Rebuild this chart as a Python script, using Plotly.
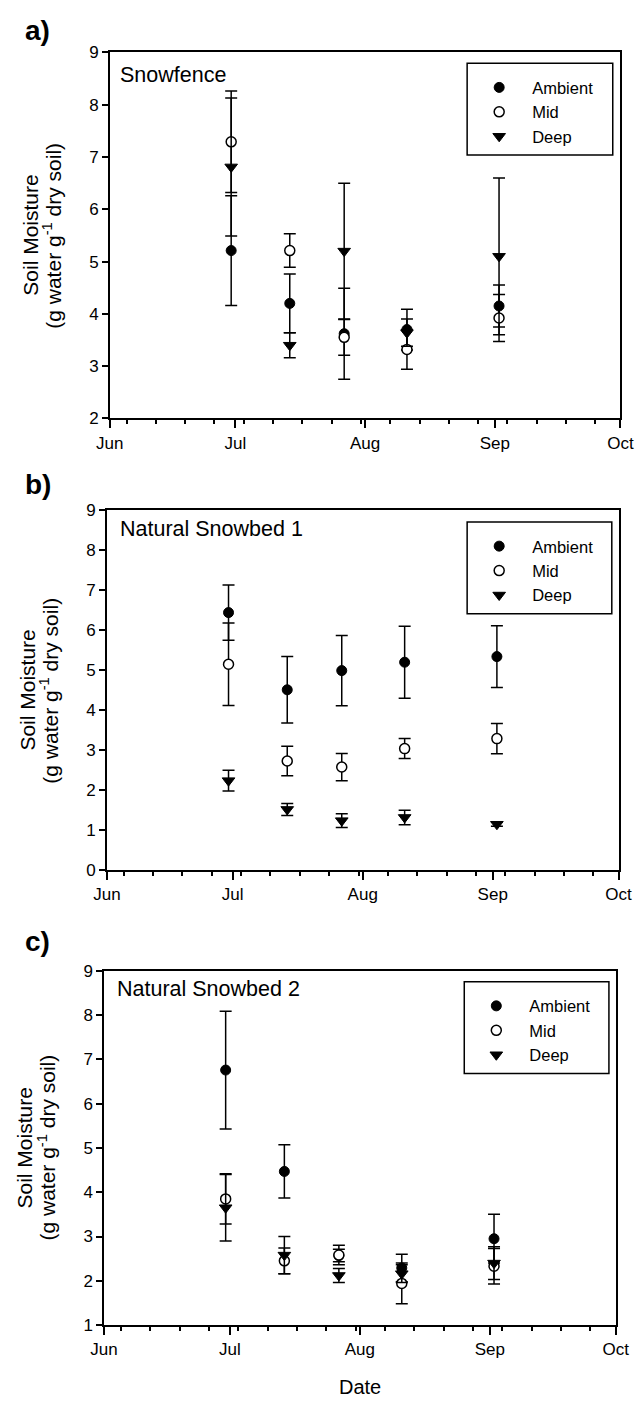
import plotly.graph_objects as go

# ---------------- data ----------------
dates = ['2004-06-30', '2004-07-14', '2004-07-27', '2004-08-11', '2004-09-02']
series_names = ['Ambient', 'Mid', 'Deep']
month_ticks = ['Jun', 'Jul', 'Aug', 'Sep', 'Oct']

# Panel a) Snowfence
a_ambient = [5.21, 4.20, 3.62, 3.70, 4.15]
a_ambient_se = [1.05, 0.56, 0.87, 0.39, 0.40]
a_mid = [7.29, 5.21, 3.55, 3.32, 3.92]
a_mid_se = [0.97, 0.32, 0.34, 0.38, 0.45]
a_deep = [6.81, 3.40, 5.20, 3.64, 5.10]
a_deep_se = [1.32, 0.24, 1.30, 0.26, 1.50]

# Panel b) Natural Snowbed 1
b_ambient = [6.44, 4.51, 4.99, 5.20, 5.34]
b_ambient_se = [0.69, 0.83, 0.88, 0.90, 0.77]
b_mid = [5.15, 2.73, 2.58, 3.04, 3.29]
b_mid_se = [1.03, 0.37, 0.34, 0.25, 0.38]
b_deep = [2.24, 1.52, 1.24, 1.32, 1.15]
b_deep_se = [0.26, 0.15, 0.17, 0.18, 0.05]

# Panel c) Natural Snowbed 2
c_ambient = [6.76, 4.47, 2.57, 2.29, 2.95]
c_ambient_se = [1.33, 0.60, 0.14, 0.31, 0.55]
c_mid = [3.85, 2.45, 2.58, 1.94, 2.33]
c_mid_se = [0.57, 0.29, 0.22, 0.46, 0.40]
c_deep = [3.65, 2.58, 2.12, 2.16, 2.40]
c_deep_se = [0.75, 0.42, 0.16, 0.20, 0.37]

panel_titles = ['Snowfence', 'Natural Snowbed 1', 'Natural Snowbed 2']
panel_letters = ['a)', 'b)', 'c)']
y_ranges = [[2, 9], [0, 9], [1, 9]]
y_title_lines = ['Soil Moisture', '(g water g<sup>-1</sup> dry soil)']

# ---------------- layout geometry (pixels) ----------------
W, H = 643, 1412


def fx(px):
    return px / W


def fy(py):
    return 1 - py / H


FONT = 'Arial, Liberation Sans, sans-serif'
panels_px = [  # left, right, top, bottom
    (100, 633, 44, 415),
    (97, 631, 508, 873),
    (94, 628, 975, 1334),
]
legend_box_px = [(473, 625, 55, 148), (473, 624, 520, 613), (470, 621, 986, 1079)]
title_px = [(109, 67), (109, 527), (105, 993)]
letter_px = [(25, 22), (25, 482), (25, 945)]

data = [
    (a_ambient, a_ambient_se, a_mid, a_mid_se, a_deep, a_deep_se),
    (b_ambient, b_ambient_se, b_mid, b_mid_se, b_deep, b_deep_se),
    (c_ambient, c_ambient_se, c_mid, c_mid_se, c_deep, c_deep_se),
]

marker_styles = [
    dict(symbol='circle', size=10, color='black', line=dict(color='black', width=1)),
    dict(symbol='circle', size=10, color='white', line=dict(color='black', width=1.5)),
    dict(symbol='triangle-down', size=11, color='black', line=dict(color='black', width=1)),
]

fig = go.Figure()
layout = dict(
    width=W, height=H, autosize=False,
    margin=dict(l=0, r=0, t=0, b=0),
    paper_bgcolor='white', plot_bgcolor='white',
    font=dict(family=FONT, color='black'),
    annotations=[], shapes=[],
)

for i in range(3):
    sfx = '' if i == 0 else str(i + 1)
    xa, ya = 'x' + sfx, 'y' + sfx
    leg = 'legend' + sfx
    vals = data[i]
    for k in range(3):
        fig.add_trace(go.Scatter(
            x=dates, y=vals[2 * k], mode='markers', name=series_names[k],
            marker=marker_styles[k],
            error_y=dict(type='data', array=vals[2 * k + 1], visible=True,
                         color='black', thickness=1.5, width=6),
            xaxis=xa, yaxis=ya, legend=leg,
        ))
    l, r, t, b = panels_px[i]
    layout['xaxis' + sfx] = dict(
        domain=[fx(l), fx(r)], anchor=ya, type='date',
        range=['2004-06-01', '2004-10-01'],
        tickmode='array',
        tickvals=['2004-06-01', '2004-07-01', '2004-08-01', '2004-09-01', '2004-10-01'],
        ticktext=month_ticks, ticklabeloverflow='allow',
        ticks='outside', ticklen=8, tickwidth=1.5, tickcolor='black',
        tickfont=dict(size=17, family=FONT),
        minor=dict(ticks='outside', ticklen=4, tickwidth=1.5, tickcolor='black',
                   dtick=7 * 86400000, tick0='2004-06-05'),
        showline=True, linecolor='black', linewidth=1.5, mirror=True,
        showgrid=False, zeroline=False, fixedrange=True,
    )
    layout['yaxis' + sfx] = dict(
        domain=[fy(b), fy(t)], anchor=xa, range=y_ranges[i], dtick=1,
        ticks='outside', ticklen=6, tickwidth=1.5, tickcolor='black',
        tickfont=dict(size=17, family=FONT),
        showline=True, linecolor='black', linewidth=1.5, mirror=True,
        showgrid=False, zeroline=False, fixedrange=True,
    )
    bx0, bx1, by0, by1 = legend_box_px[i]
    layout['shapes'].append(dict(
        type='rect', xref='paper', yref='paper',
        x0=fx(bx0), x1=fx(bx1), y0=fy(by1), y1=fy(by0),
        line=dict(color='black', width=1.5), fillcolor='white', layer='below'))
    layout[leg] = dict(
        x=fx(bx0 - 1), y=fy(by0 + 7), xanchor='left', yanchor='top',
        xref='paper', yref='paper',
        bgcolor='rgba(0,0,0,0)', borderwidth=0,
        font=dict(size=16.5, family=FONT),
        itemwidth=56, tracegroupgap=0,
    )
    tx, ty = title_px[i]
    layout['annotations'].append(dict(
        text=panel_titles[i], x=fx(tx), y=fy(ty), xref='paper', yref='paper',
        xanchor='left', yanchor='middle', showarrow=False,
        font=dict(size=21.5, family=FONT)))
    px_, py_ = letter_px[i]
    layout['annotations'].append(dict(
        text='<b>' + panel_letters[i] + '</b>', x=fx(px_), y=fy(py_),
        xref='paper', yref='paper', xanchor='center', yanchor='middle',
        showarrow=False, font=dict(size=28, family=FONT)))
    for j, line_x in enumerate([l - 83, l - 60]):
        layout['annotations'].append(dict(
            text=y_title_lines[j],
            x=fx(line_x), y=fy((t + b) / 2), xref='paper', yref='paper',
            xanchor='center', yanchor='middle', textangle=-90, showarrow=False,
            font=dict(size=21, family=FONT)))

layout['annotations'].append(dict(
    text='Date', x=fx(361), y=fy(1397), xref='paper', yref='paper',
    xanchor='center', yanchor='middle', showarrow=False,
    font=dict(size=20, family=FONT)))

fig.update_layout(**layout)
fig.write_html('out.html', config={'responsive': False})
